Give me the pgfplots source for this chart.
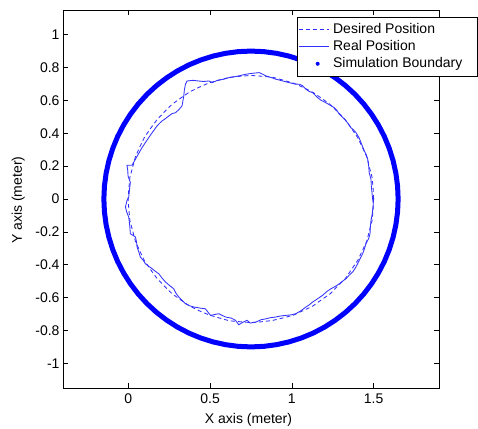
\documentclass[border=0pt]{standalone}
\usepackage{pgfplots}
\pgfplotsset{compat=1.18}
\usepackage{fontspec}
\setmainfont{Liberation Sans}
\definecolor{mblue}{RGB}{0,0,255}
\definecolor{lblue}{RGB}{45,45,255}
\definecolor{rblue}{RGB}{50,50,252}
\begin{document}
\begin{tikzpicture}
\path[use as bounding box] (-63pt,-40pt) rectangle (415pt,388pt);
\begin{axis}[
  at={(0pt,0pt)}, anchor=south west,
  scale only axis, width=376pt, height=378pt,
  xmin=-0.4, xmax=1.9, ymin=-1.15, ymax=1.15,
  xtick={0,0.5,1,1.5}, xticklabels={0,0.5,1,1.5},
  ytick={-1,-0.8,-0.6,-0.4,-0.2,0,0.2,0.4,0.6,0.8,1},
  yticklabels={-1,-0.8,-0.6,-0.4,-0.2,0,0.2,0.4,0.6,0.8,1},
  /pgf/number format/assume math mode=true,
  tick align=inside, major tick length=5pt,
  tick style={black, line width=0.6pt},
  axis line style={black, line width=0.8pt},
  font=\fontsize{14}{16}\selectfont,
  ticklabel style={font=\fontsize{14}{16}\selectfont},
  xticklabel style={yshift=-2pt},
  xlabel={X axis (meter)}, ylabel={Y axis (meter)},
  xlabel style={at={(axis description cs:0.4934,-0.0839)}, anchor=center},
  ylabel style={at={(axis description cs:-0.1189,0.497)}, anchor=center},
  legend style={at={(axis description cs:0.6223,0.9815)}, anchor=north west,
    draw=black, line width=0.6pt, fill=white, inner xsep=1pt, inner ysep=4pt,
    font=\fontsize{14}{16}\selectfont, row sep=0pt, column sep=0pt,
    nodes={inner xsep=4pt, inner ysep=1.5pt, text height=10.5pt, text depth=3.5pt}},
  legend cell align=left,
]
\addplot[color=lblue, line width=0.85pt, dash pattern=on 4pt off 3pt,
  legend image code/.code={\draw[lblue, line width=0.85pt, dash pattern=on 4pt off 3pt] (0pt,0pt) -- (30pt,0pt);}] coordinates {
(1.500,0.000)(1.497,0.065)(1.491,0.130)(1.474,0.194)(1.458,0.257)(1.430,0.317)
(1.402,0.375)(1.364,0.430)(1.327,0.482)(1.280,0.530)(1.234,0.575)(1.180,0.614)
(1.127,0.650)(1.067,0.680)(1.009,0.705)(0.944,0.724)(0.882,0.741)(0.815,0.747)
(0.750,0.752)(0.685,0.747)(0.620,0.741)(0.556,0.724)(0.494,0.707)(0.433,0.680)
(0.375,0.652)(0.320,0.614)(0.268,0.577)(0.220,0.530)(0.176,0.484)(0.136,0.430)
(0.098,0.375)(0.070,0.317)(0.043,0.257)(0.026,0.194)(0.009,0.130)(0.003,0.065)
(-0.002,0.000)(0.003,-0.065)(0.009,-0.130)(0.026,-0.194)(0.043,-0.257)(0.070,-0.317)
(0.098,-0.375)(0.136,-0.430)(0.174,-0.482)(0.220,-0.530)(0.266,-0.575)(0.320,-0.614)
(0.373,-0.650)(0.433,-0.680)(0.492,-0.705)(0.556,-0.724)(0.618,-0.741)(0.685,-0.747)
(0.750,-0.752)(0.815,-0.747)(0.882,-0.739)(0.944,-0.724)(1.009,-0.707)(1.067,-0.680)
(1.127,-0.652)(1.180,-0.614)(1.234,-0.577)(1.280,-0.530)(1.327,-0.484)(1.364,-0.430)
(1.402,-0.375)(1.430,-0.317)(1.458,-0.257)(1.474,-0.194)(1.491,-0.130)(1.497,-0.065)
(1.500,0.000)};
\addlegendentry{Desired Position}
\addplot[color=rblue, line width=0.85pt,
  legend image code/.code={\draw[rblue, line width=0.85pt] (0pt,0pt) -- (30pt,0pt);}] coordinates {
(1.494,0.000)(1.490,0.038)(1.486,0.080)(1.484,0.120)(1.473,0.160)(1.470,0.200)
(1.464,0.242)(1.455,0.270)(1.443,0.292)(1.432,0.320)(1.423,0.343)(1.410,0.375)
(1.392,0.404)(1.378,0.420)(1.361,0.434)(1.345,0.458)(1.331,0.475)(1.310,0.497)
(1.290,0.516)(1.275,0.540)(1.259,0.556)(1.235,0.570)(1.208,0.586)(1.180,0.600)
(1.157,0.617)(1.140,0.635)(1.127,0.647)(1.105,0.655)(1.086,0.668)(1.065,0.690)
(1.045,0.698)(1.015,0.700)(0.983,0.708)(0.945,0.718)(0.902,0.729)(0.870,0.740)
(0.841,0.749)(0.820,0.760)(0.800,0.769)(0.760,0.765)(0.718,0.759)(0.680,0.750)
(0.640,0.742)(0.614,0.738)(0.580,0.728)(0.545,0.722)(0.512,0.708)(0.492,0.718)
(0.460,0.715)(0.430,0.718)(0.395,0.722)(0.359,0.718)(0.349,0.698)(0.342,0.660)
(0.339,0.627)(0.328,0.566)(0.310,0.545)(0.288,0.525)(0.268,0.520)(0.247,0.505)
(0.225,0.488)(0.206,0.475)(0.190,0.460)(0.175,0.444)(0.150,0.410)(0.124,0.373)
(0.105,0.345)(0.083,0.312)(0.062,0.275)(0.043,0.242)(0.022,0.205)(-0.009,0.205)
(-0.004,0.175)(-0.002,0.140)(0.012,0.100)(0.006,0.050)(0.002,0.010)(-0.009,-0.010)
(-0.018,-0.049)(-0.010,-0.080)(0.002,-0.110)(0.008,-0.160)(0.012,-0.211)(0.043,-0.231)
(0.050,-0.262)(0.053,-0.292)(0.065,-0.325)(0.073,-0.353)(0.090,-0.372)(0.104,-0.394)
(0.125,-0.410)(0.145,-0.424)(0.165,-0.440)(0.186,-0.455)(0.205,-0.480)(0.227,-0.505)
(0.250,-0.525)(0.277,-0.546)(0.290,-0.572)(0.308,-0.596)(0.330,-0.618)(0.349,-0.637)
(0.375,-0.650)(0.400,-0.657)(0.440,-0.664)(0.471,-0.668)(0.502,-0.708)(0.553,-0.698)
(0.594,-0.718)(0.630,-0.725)(0.655,-0.738)(0.675,-0.765)(0.700,-0.750)(0.726,-0.738)
(0.745,-0.755)(0.780,-0.749)(0.810,-0.735)(0.841,-0.729)(0.870,-0.722)(0.902,-0.718)
(0.930,-0.712)(0.963,-0.708)(0.995,-0.705)(1.024,-0.698)(1.055,-0.680)(1.086,-0.657)
(1.105,-0.645)(1.127,-0.627)(1.160,-0.605)(1.188,-0.586)(1.215,-0.562)(1.239,-0.546)
(1.265,-0.532)(1.290,-0.516)(1.310,-0.500)(1.331,-0.485)(1.352,-0.462)(1.372,-0.444)
(1.388,-0.420)(1.402,-0.394)(1.418,-0.362)(1.433,-0.333)(1.445,-0.300)(1.453,-0.272)
(1.470,-0.240)(1.478,-0.211)(1.480,-0.170)(1.484,-0.130)(1.490,-0.100)(1.494,-0.069)
(1.498,-0.030)(1.494,0.000)};
\addlegendentry{Real Position}
\addplot[color=mblue, line width=5pt,
  legend image code/.code={\path[draw=none, fill=mblue, line width=0pt] (19pt,0pt) circle (2pt); \path[draw=none] (0pt,0pt) -- (30pt,0pt);}] coordinates {
(1.6500,0.0000)(1.6466,0.0784)(1.6363,0.1563)(1.6193,0.2329)(1.5957,0.3078)(1.5657,0.3804)
(1.5294,0.4500)(1.4872,0.5162)(1.4394,0.5785)(1.3864,0.6364)(1.3285,0.6894)(1.2662,0.7372)
(1.2000,0.7794)(1.1304,0.8157)(1.0578,0.8457)(0.9829,0.8693)(0.9063,0.8863)(0.8284,0.8966)
(0.7500,0.9000)(0.6716,0.8966)(0.5937,0.8863)(0.5171,0.8693)(0.4422,0.8457)(0.3696,0.8157)
(0.3000,0.7794)(0.2338,0.7372)(0.1715,0.6894)(0.1136,0.6364)(0.0606,0.5785)(0.0128,0.5162)
(-0.0294,0.4500)(-0.0657,0.3804)(-0.0957,0.3078)(-0.1193,0.2329)(-0.1363,0.1563)(-0.1466,0.0784)
(-0.1500,0.0000)(-0.1466,-0.0784)(-0.1363,-0.1563)(-0.1193,-0.2329)(-0.0957,-0.3078)(-0.0657,-0.3804)
(-0.0294,-0.4500)(0.0128,-0.5162)(0.0606,-0.5785)(0.1136,-0.6364)(0.1715,-0.6894)(0.2338,-0.7372)
(0.3000,-0.7794)(0.3696,-0.8157)(0.4422,-0.8457)(0.5171,-0.8693)(0.5937,-0.8863)(0.6716,-0.8966)
(0.7500,-0.9000)(0.8284,-0.8966)(0.9063,-0.8863)(0.9829,-0.8693)(1.0578,-0.8457)(1.1304,-0.8157)
(1.2000,-0.7794)(1.2662,-0.7372)(1.3285,-0.6894)(1.3864,-0.6364)(1.4394,-0.5785)(1.4872,-0.5162)
(1.5294,-0.4500)(1.5657,-0.3804)(1.5957,-0.3078)(1.6193,-0.2329)(1.6363,-0.1563)(1.6466,-0.0784)
(1.6500,0.0000)};
\addlegendentry{Simulation Boundary\hspace*{10pt}}
\end{axis}
\end{tikzpicture}
\end{document}
